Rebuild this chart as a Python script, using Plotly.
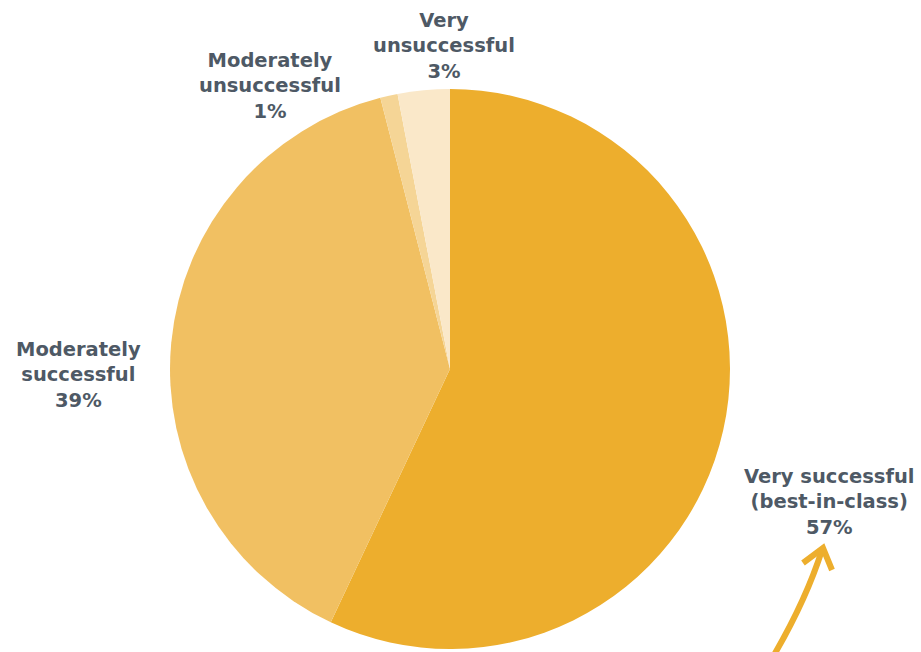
import plotly.graph_objects as go

W, H = 921, 652

labels = ["Very successful (best-in-class)", "Moderately successful",
          "Moderately unsuccessful", "Very unsuccessful"]
label_text = ["Very successful<br>(best-in-class)", "Moderately<br>successful",
              "Moderately<br>unsuccessful", "Very<br>unsuccessful"]
values = [57, 39, 1, 3]
colors = ["#EDAE2D", "#F1C062", "#F5D596", "#FAE8C9"]

# label anchor centres in pixels (x, y of the middle line)
label_pos = [(829, 502), (78, 375), (270, 86), (444, 46)]

cx, cy, r = 450, 369, 280

fig = go.Figure(go.Pie(
    labels=labels, values=values, sort=False, direction="clockwise",
    rotation=0, marker=dict(colors=colors, line=dict(width=0)),
    textinfo="none", hoverinfo="label+percent", showlegend=False,
    domain=dict(x=[(cx - r) / W, (cx + r) / W], y=[1 - (cy + r) / H, 1 - (cy - r) / H]),
))

for txt, v, (px, py) in zip(label_text, values, label_pos):
    fig.add_annotation(
        x=px / W, y=1 - py / H, xref="paper", yref="paper",
        text=f"<b>{txt}<br>{v}%</b>", showarrow=False,
        font=dict(family="DejaVu Sans", size=19.5, color="#4E5965"),
        align="center", xanchor="center", yanchor="middle",
    )

def P(x, y):
    return f"{x / W:.5f},{1 - y / H:.5f}"

arrow_col = "#EDAE2D"
fig.add_shape(type="path", xref="paper", yref="paper",
              path=f"M{P(774, 655)} Q{P(806, 600)} {P(822, 550)}",
              line=dict(color=arrow_col, width=6))
fig.add_shape(type="path", xref="paper", yref="paper",
              path=f"M{P(803, 563)} L{P(823, 548)} L{P(832, 570)}",
              line=dict(color=arrow_col, width=6))

fig.update_layout(
    width=W, height=H, margin=dict(l=0, r=0, t=0, b=0),
    paper_bgcolor="white", plot_bgcolor="white",
)
fig.write_html("out.html")
